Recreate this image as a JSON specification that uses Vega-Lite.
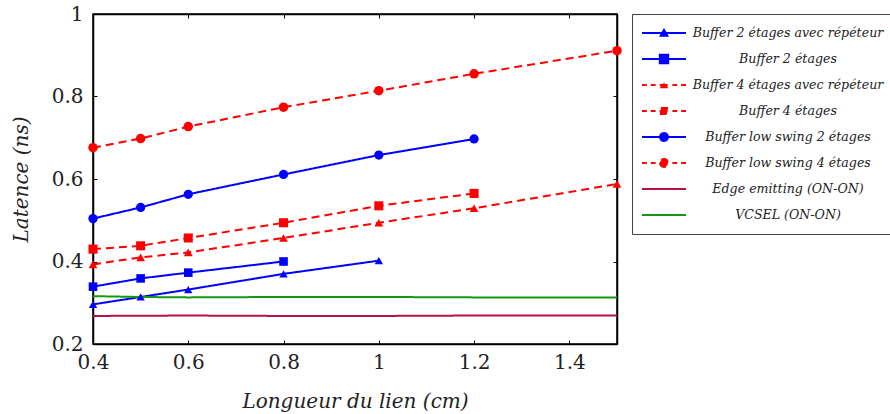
{
  "$schema": "https://vega.github.io/schema/vega-lite/v6.json",
  "width": 524,
  "height": 330,
  "autosize": {"type": "none"},
  "padding": {"left": 93, "top": 14, "right": 273, "bottom": 70},
  "background": "white",
  "config": {
    "font": "DejaVu Serif",
    "view": {"stroke": "black", "strokeWidth": 1.5},
    "axis": {"grid": false, "labelFlush": false, "labelFontSize": 20, "titleFontSize": 20, "titleFontStyle": "italic", "titleFontWeight": "normal", "labelColor": "#222", "titleColor": "#222", "domainColor": "black", "domainWidth": 1.5, "tickColor": "black", "tickSize": -4, "tickWidth": 1}
  },
  "data": {"values": [
    {"series": "Buffer 2 étages avec répéteur", "x": 0.4, "y": 0.296},
    {"series": "Buffer 2 étages avec répéteur", "x": 0.5, "y": 0.314},
    {"series": "Buffer 2 étages avec répéteur", "x": 0.6, "y": 0.332},
    {"series": "Buffer 2 étages avec répéteur", "x": 0.8, "y": 0.370},
    {"series": "Buffer 2 étages avec répéteur", "x": 1.0, "y": 0.402},
    {"series": "Buffer 2 étages", "x": 0.4, "y": 0.339},
    {"series": "Buffer 2 étages", "x": 0.5, "y": 0.359},
    {"series": "Buffer 2 étages", "x": 0.6, "y": 0.373},
    {"series": "Buffer 2 étages", "x": 0.8, "y": 0.400},
    {"series": "Buffer 4 étages avec répéteur", "x": 0.4, "y": 0.393},
    {"series": "Buffer 4 étages avec répéteur", "x": 0.5, "y": 0.410},
    {"series": "Buffer 4 étages avec répéteur", "x": 0.6, "y": 0.422},
    {"series": "Buffer 4 étages avec répéteur", "x": 0.8, "y": 0.457},
    {"series": "Buffer 4 étages avec répéteur", "x": 1.0, "y": 0.494},
    {"series": "Buffer 4 étages avec répéteur", "x": 1.2, "y": 0.529},
    {"series": "Buffer 4 étages avec répéteur", "x": 1.5, "y": 0.588},
    {"series": "Buffer 4 étages", "x": 0.4, "y": 0.430},
    {"series": "Buffer 4 étages", "x": 0.5, "y": 0.438},
    {"series": "Buffer 4 étages", "x": 0.6, "y": 0.457},
    {"series": "Buffer 4 étages", "x": 0.8, "y": 0.494},
    {"series": "Buffer 4 étages", "x": 1.0, "y": 0.535},
    {"series": "Buffer 4 étages", "x": 1.2, "y": 0.565},
    {"series": "Buffer low swing 2 étages", "x": 0.4, "y": 0.504},
    {"series": "Buffer low swing 2 étages", "x": 0.5, "y": 0.531},
    {"series": "Buffer low swing 2 étages", "x": 0.6, "y": 0.563},
    {"series": "Buffer low swing 2 étages", "x": 0.8, "y": 0.611},
    {"series": "Buffer low swing 2 étages", "x": 1.0, "y": 0.658},
    {"series": "Buffer low swing 2 étages", "x": 1.2, "y": 0.697},
    {"series": "Buffer low swing 4 étages", "x": 0.4, "y": 0.676},
    {"series": "Buffer low swing 4 étages", "x": 0.5, "y": 0.698},
    {"series": "Buffer low swing 4 étages", "x": 0.6, "y": 0.727},
    {"series": "Buffer low swing 4 étages", "x": 0.8, "y": 0.774},
    {"series": "Buffer low swing 4 étages", "x": 1.0, "y": 0.814},
    {"series": "Buffer low swing 4 étages", "x": 1.2, "y": 0.855},
    {"series": "Buffer low swing 4 étages", "x": 1.5, "y": 0.911},
    {"series": "Edge emitting (ON-ON)", "x": 0.4, "y": 0.268},
    {"series": "Edge emitting (ON-ON)", "x": 0.6, "y": 0.269},
    {"series": "Edge emitting (ON-ON)", "x": 0.8, "y": 0.268},
    {"series": "Edge emitting (ON-ON)", "x": 1.0, "y": 0.268},
    {"series": "Edge emitting (ON-ON)", "x": 1.2, "y": 0.269},
    {"series": "Edge emitting (ON-ON)", "x": 1.5, "y": 0.269},
    {"series": "VCSEL (ON-ON)", "x": 0.4, "y": 0.316},
    {"series": "VCSEL (ON-ON)", "x": 0.5, "y": 0.314},
    {"series": "VCSEL (ON-ON)", "x": 0.6, "y": 0.313},
    {"series": "VCSEL (ON-ON)", "x": 0.8, "y": 0.314},
    {"series": "VCSEL (ON-ON)", "x": 1.0, "y": 0.314},
    {"series": "VCSEL (ON-ON)", "x": 1.2, "y": 0.313},
    {"series": "VCSEL (ON-ON)", "x": 1.5, "y": 0.313}
  ]},
  "resolve": {"axis": {"x": "independent", "y": "independent"}},
  "layer": [
    {
      "mark": {"type": "line", "strokeWidth": 2},
      "encoding": {
        "x": {"field": "x", "type": "quantitative", "scale": {"domain": [0.4, 1.5], "nice": false, "zero": false, "padding": 0},
              "axis": {"title": "Longueur du lien (cm)", "values": [0.4, 0.6, 0.8, 1, 1.2, 1.4], "format": "~g", "labelPadding": 12, "titlePadding": 19}},
        "y": {"field": "y", "type": "quantitative", "scale": {"domain": [0.2, 1], "nice": false, "zero": false, "padding": 0},
              "axis": {"title": "Latence (ns)", "values": [0.2, 0.4, 0.6, 0.8, 1], "format": "~g", "labelPadding": 14, "titlePadding": 20}},
        "detail": {"field": "series"},
        "color": {"field": "series", "type": "nominal",
          "scale": {"domain": ["Buffer 2 étages avec répéteur", "Buffer 2 étages", "Buffer 4 étages avec répéteur", "Buffer 4 étages", "Buffer low swing 2 étages", "Buffer low swing 4 étages", "Edge emitting (ON-ON)", "VCSEL (ON-ON)"],
                    "range": ["#0000ff", "#0000ff", "#ff0000", "#ff0000", "#0000ff", "#ff0000", "#b5124b", "#129912"]},
          "legend": {
            "title": null, "orient": "none", "legendX": 539, "legendY": 0,
            "padding": 6, "strokeColor": "#444", "fillColor": "white",
            "labelFontSize": 12.6, "labelFontStyle": "italic", "labelColor": "#222", "labelAlign": "center", "labelOffset": 104, "labelLimit": 300,
            "symbolSize": 400, "rowPadding": 0, "symbolStrokeWidth": 2, "clipHeight": 26,
            "encode": {"symbols": {"update": {
              "x": {"value": 26},
              "size": {"value": 1936},
              "strokeWidth": {"value": 2},
              "strokeDash": {"value": [1, 0]},
              "opacity": {"value": 1},
              "fill": {"scale": "color", "field": "value"},
              "fillOpacity": {"value": 1},
              "stroke": {"scale": "color", "field": "value"},
              "shape": {"signal": "datum.value === 'Buffer 2 étages avec répéteur' ? 'M-1,0H1M-0.15,0.12L0.15,0.12L0,-0.14Z' : datum.value === 'Buffer 2 étages' ? 'M-1,0H1M-0.19,-0.19H0.19V0.19H-0.19Z' : datum.value === 'Buffer 4 étages avec répéteur' ? 'M-1,0H-0.78M-0.6,0H-0.38M-0.2,0H0.2M0.38,0H0.6M0.78,0H1M-0.12,0.1L0.12,0.1L0,-0.12Z' : datum.value === 'Buffer 4 étages' ? 'M-1,0H-0.78M-0.6,0H-0.38M-0.2,0H0.2M0.38,0H0.6M0.78,0H1M-0.14,-0.14H0.14V0.14H-0.14Z' : datum.value === 'Buffer low swing 2 étages' ? 'M-1,0H1M-0.18,0A0.18,0.18 0 1,0 0.18,0A0.18,0.18 0 1,0 -0.18,0Z' : datum.value === 'Buffer low swing 4 étages' ? 'M-1,0H-0.78M-0.6,0H-0.38M-0.2,0H0.2M0.38,0H0.6M0.78,0H1M-0.18,0A0.18,0.18 0 1,0 0.18,0A0.18,0.18 0 1,0 -0.18,0Z' : 'M-1,0H1'"}
            }}}
          }},
        "strokeDash": {"field": "series", "type": "nominal", "legend": null,
          "scale": {"domain": ["Buffer 2 étages avec répéteur", "Buffer 2 étages", "Buffer 4 étages avec répéteur", "Buffer 4 étages", "Buffer low swing 2 étages", "Buffer low swing 4 étages", "Edge emitting (ON-ON)", "VCSEL (ON-ON)"],
                    "range": [[1, 0], [1, 0], [8, 5], [8, 5], [1, 0], [8, 5], [1, 0], [1, 0]]}}
      }
    },
    {
      "transform": [{"filter": {"field": "series", "oneOf": ["Buffer 2 étages avec répéteur", "Buffer 2 étages", "Buffer 4 étages avec répéteur", "Buffer 4 étages", "Buffer low swing 2 étages", "Buffer low swing 4 étages"]}}],
      "mark": {"type": "point", "filled": true, "opacity": 1},
      "encoding": {
        "x": {"field": "x", "type": "quantitative", "scale": {"domain": [0.4, 1.5], "nice": false, "zero": false, "padding": 0},
              "axis": {"orient": "top", "labels": false, "title": null, "values": [0.4, 0.6, 0.8, 1, 1.2, 1.4]}},
        "y": {"field": "y", "type": "quantitative", "scale": {"domain": [0.2, 1], "nice": false, "zero": false, "padding": 0},
              "axis": {"orient": "right", "labels": false, "title": null, "values": [0.2, 0.4, 0.6, 0.8, 1]}},
        "color": {"field": "series", "type": "nominal", "legend": null},
        "shape": {"field": "series", "type": "nominal", "legend": null,
          "scale": {"domain": ["Buffer 2 étages avec répéteur", "Buffer 2 étages", "Buffer 4 étages avec répéteur", "Buffer 4 étages", "Buffer low swing 2 étages", "Buffer low swing 4 étages"],
                    "range": ["triangle-up", "square", "triangle-up", "square", "circle", "circle"]}},
        "size": {"field": "series", "type": "nominal", "legend": null,
          "scale": {"domain": ["Buffer 2 étages avec répéteur", "Buffer 2 étages", "Buffer 4 étages avec répéteur", "Buffer 4 étages", "Buffer low swing 2 étages", "Buffer low swing 4 étages"],
                    "range": [70, 90, 35, 55, 90, 80]}}
      }
    }
  ]
}
